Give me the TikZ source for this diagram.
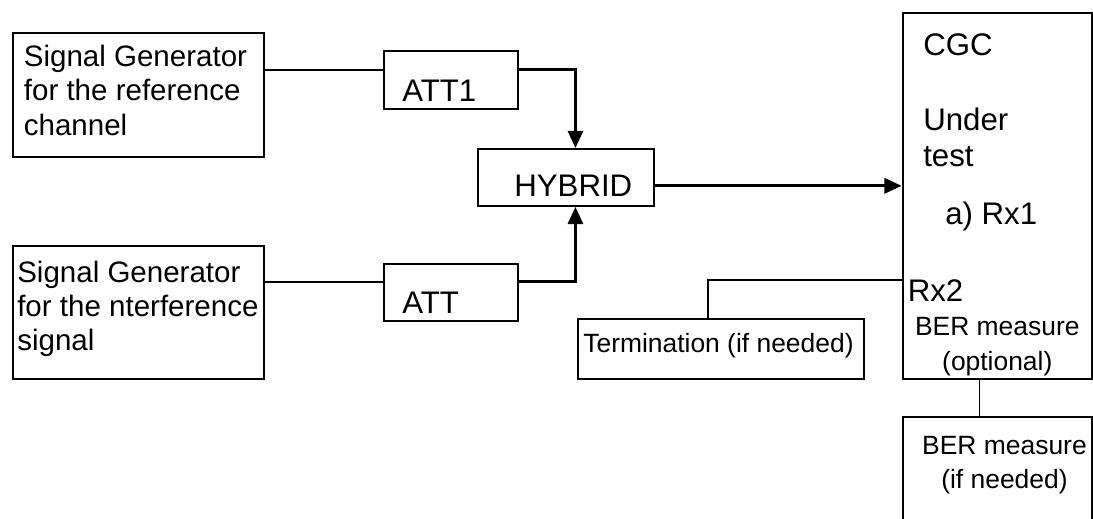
\documentclass[tikz,border=0pt]{standalone}
\usepackage{fontspec}
\setmainfont{Liberation Sans}
\usetikzlibrary{positioning, arrows.meta}

\begin{document}
\begin{tikzpicture}[
        box/.style={draw, line width=1.4pt, inner sep=0pt},
        txt/.style={inner sep=0pt, align=left, anchor=base west},
        gen/.style={font=\fontsize{21}{24.2}\selectfont},
        unit/.style={font=\fontsize{22.2}{25.6}\selectfont},
        note/.style={font=\fontsize{18.8}{24.2}\selectfont},
        wire/.style={line width=1.3pt},
        link/.style={line width=2pt, -{Triangle[length=4.3mm, width=3.8mm]}}
    ]
    \useasboundingbox (0,0) rectangle (27.325,-12.95);
    \clip (0,0) rectangle (27.325,-12.95);

    % Generators (multi-line texts sit on their last baseline)
    \node[box, minimum width=6.29cm, minimum height=3.1cm, anchor=north west] (sg1) at (0.295,-0.8) {};
    \node[box, minimum width=6.29cm, minimum height=3.325cm, below=2.17cm of sg1] (sg2) {};
    \node[txt, gen] (sg1t) at ([shift={(0.295,-2.575)}]sg1.north west) {Signal Generator\\for the reference\\channel};
    \node[txt, gen] (sg2t) at ([shift={(0.13,-2.64)}]sg2.north west) {Signal Generator\\for the nterference\\signal};

    % Attenuators and hybrid
    \node[box, minimum width=3.355cm, minimum height=1.44cm, anchor=north west] (att1) at ([shift={(2.93,-0.45)}]sg1.north east) {};
    \node[box, minimum width=3.355cm, minimum height=1.43cm, below=3.835cm of att1] (att) {};
    \node[box, minimum width=4.41cm, minimum height=1.425cm, anchor=north west] (hyb) at ([shift={(2.3525,-0.96)}]att1.south west) {};
    \node[txt, unit] (att1t) at ([shift={(0.4875,-1.275)}]att1.north west) {ATT1};
    \node[txt, unit] (attt) at ([shift={(0.4875,-1.2675)}]att.north west) {ATT};
    \node[txt, unit] (hybt) at ([shift={(0.935,-1.225)}]hyb.north west) {HYBRID};

    % Device under test
    \node[box, minimum width=4.735cm, minimum height=9.15cm, anchor=north west] (cgc) at (22.54,-0.3) {};
    \node[txt, unit] (cgct) at ([shift={(0.535,-1.0925)}]cgc.north west) {CGC};
    \node[txt, unit] (undert) at ([shift={(0.535,-3.85)}]cgc.north west) {Under\\test};
    \node[txt, unit] (rx1t) at ([shift={(1.085,-5.3)}]cgc.north west) {a) Rx1};
    \node[txt, unit] (rx2t) at ([shift={(0.1475,-7.2425)}]cgc.north west) {Rx2};
    \node[txt, note, align=center, anchor=base] (optt) at ([shift={(0,-8.95)}]cgc.north) {BER measure\\(optional)};

    % Termination and BER
    \node[box, minimum width=7.155cm, minimum height=1.49cm, left=0.915cm of cgc.south west, anchor=south east] (term) {};
    \node[txt, note] (termt) at ([shift={(0.155,-0.86)}]term.north west) {Termination (if needed)};
    \node[box, minimum width=4.735cm, minimum height=3.6cm, below=0.91cm of cgc] (ber) {};
    \node[txt, note, align=center, anchor=base] (bert) at ([shift={(0.18,-1.81)}]ber.north) {BER measure\\(if needed)};

    % Links
    \draw[wire] ([yshift=0.255cm]att1.west -| sg1.east) -- ([yshift=0.255cm]att1.west);
    \draw[wire] ([yshift=0.267cm]att.west -| sg2.east) -- ([yshift=0.267cm]att.west);
    \draw[link] ([yshift=0.255cm]att1.east) -| ([xshift=0.24cm]hyb.north);
    \draw[link] ([yshift=0.267cm]att.east) -| ([xshift=0.24cm]hyb.south);
    \draw[link] ([yshift=-0.21cm]hyb.east) -- ([yshift=-0.21cm]hyb.east -| cgc.west);
    \draw[wire] ([yshift=-2.1cm]cgc.west) -| ([xshift=-0.33cm]term.north);
    \draw[wire] ([xshift=-0.445cm]cgc.south) -- ([xshift=-0.445cm]ber.north);

\end{tikzpicture}
\end{document}
